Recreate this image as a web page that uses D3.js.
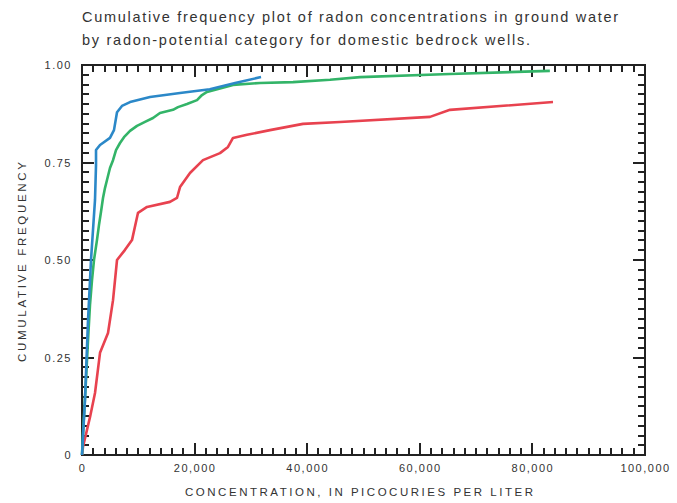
<!DOCTYPE html>
<html lang="en">
<head>
    <meta charset="UTF-8">
    <title>Cumulative frequency of radon concentrations</title>
    <script src="https://cdn.jsdelivr.net/npm/d3@7"></script>
    <style>
        body { margin: 0; background: #fff; }
        text { font-family: "Liberation Sans", Arial, sans-serif; fill: #333; }
    </style>
</head>
<body>
<script type="application/javascript">

    // concentration (pCi/L) and cumulative frequency
    let blueConc = [0, 530, 1070, 1600, 2310, 2490, 2490, 3200, 4970, 5680, 6220, 7100, 8530, 12080, 17410, 22700, 27200, 31800];
    let blueFreq = [0, 0.141, 0.346, 0.500, 0.654, 0.744, 0.782, 0.795, 0.813, 0.833, 0.879, 0.895, 0.905, 0.918, 0.928, 0.938, 0.954, 0.969];

    let greenConc = [0, 180, 710, 1070, 1420, 1780, 2130, 2660, 3020, 3370, 3730, 4090, 4440, 4970, 5510, 6040, 6750, 7460, 8530, 9770, 11190, 12610, 13850, 16160, 17050, 18650, 20430, 21310, 22200, 26820, 31620, 37480, 44050, 49380, 65360, 83100];
    let greenFreq = [0, 0.056, 0.192, 0.295, 0.385, 0.449, 0.500, 0.551, 0.590, 0.623, 0.659, 0.685, 0.705, 0.736, 0.756, 0.782, 0.800, 0.815, 0.831, 0.844, 0.854, 0.864, 0.877, 0.885, 0.892, 0.900, 0.910, 0.923, 0.931, 0.949, 0.954, 0.956, 0.962, 0.969, 0.977, 0.985];

    let redConc = [0, 180, 1420, 2310, 3200, 4620, 5510, 6220, 7640, 8880, 9950, 11550, 15630, 16870, 17410, 19180, 21490, 24510, 25930, 26820, 29310, 33390, 39250, 45830, 61810, 65360, 83660];
    let redFreq = [0, 0.021, 0.097, 0.159, 0.262, 0.313, 0.397, 0.500, 0.526, 0.551, 0.621, 0.636, 0.649, 0.659, 0.687, 0.723, 0.756, 0.774, 0.790, 0.813, 0.821, 0.833, 0.849, 0.854, 0.867, 0.885, 0.905];

    let xTicks = [0, 20000, 40000, 60000, 80000, 100000];
    let yTicks = [0, 0.25, 0.5, 0.75, 1];
    let yTickLabels = ['0', '0.25', '0.50', '0.75', '1.00'];

    let titleLines = [
        'Cumulative frequency plot of radon concentrations in ground water',
        'by radon-potential category for domestic bedrock wells.'
    ];

    let w = 677, h = 503;
    let mLeft = 82, mRight = 645, mTop = 65, mBottom = 455;

    let svg = d3.select('body')
        .append('svg')
        .attr('width', w)
        .attr('height', h);

    let x = d3.scaleLinear().domain([0, 100000]).range([mLeft, mRight]);
    let y = d3.scaleLinear().domain([0, 1]).range([mBottom, mTop]);

    // minor every 2,000 / 0.025, major at the labelled values
    let xTickMarks = d3.range(0, 51).map(i => ({ v: i * 2000, len: i % 10 === 0 ? 12 : 7 }));
    let yTickMarks = d3.range(0, 41).map(i => ({ v: i / 40, len: i % 10 === 0 ? 12 : 7 }));

    // snap to whole pixels so the 2px ticks stay crisp
    let px = v => Math.round(v);

    let ticks = svg.append('g')
        .attr('stroke', '#222')
        .attr('stroke-width', 2)
        .attr('shape-rendering', 'crispEdges');

    // bottom and top, pointing inward
    ticks.selectAll('line.xb')
        .data(xTickMarks)
        .enter()
        .append('line')
        .attr('class', 'xb')
        .attr('x1', d => px(x(d.v))).attr('x2', d => px(x(d.v)))
        .attr('y1', mBottom).attr('y2', d => mBottom - d.len);
    ticks.selectAll('line.xt')
        .data(xTickMarks)
        .enter()
        .append('line')
        .attr('class', 'xt')
        .attr('x1', d => px(x(d.v))).attr('x2', d => px(x(d.v)))
        .attr('y1', mTop).attr('y2', d => mTop + d.len);

    // left and right, pointing inward
    ticks.selectAll('line.yl')
        .data(yTickMarks)
        .enter()
        .append('line')
        .attr('class', 'yl')
        .attr('y1', d => px(y(d.v))).attr('y2', d => px(y(d.v)))
        .attr('x1', mLeft).attr('x2', d => mLeft + d.len);
    ticks.selectAll('line.yr')
        .data(yTickMarks)
        .enter()
        .append('line')
        .attr('class', 'yr')
        .attr('y1', d => px(y(d.v))).attr('y2', d => px(y(d.v)))
        .attr('x1', mRight).attr('x2', d => mRight - d.len);

    svg.append('rect')
        .attr('x', mLeft)
        .attr('y', mTop)
        .attr('width', mRight - mLeft)
        .attr('height', mBottom - mTop)
        .attr('fill', 'none')
        .attr('stroke', '#222')
        .attr('stroke-width', 2);

    // tick labels through d3 axes (their lines and domain removed)
    let xAxis = svg.append('g')
        .attr('transform', 'translate(0,' + mBottom + ')')
        .call(d3.axisBottom(x).tickValues(xTicks).tickFormat(d3.format(',')).tickSize(0).tickPadding(9));
    let yAxis = svg.append('g')
        .attr('transform', 'translate(' + mLeft + ',0)')
        .call(d3.axisLeft(y).tickValues(yTicks).tickFormat((d, i) => yTickLabels[i]).tickSize(0).tickPadding(10));
    [xAxis, yAxis].forEach(g => {
        g.select('.domain').remove();
        g.selectAll('.tick line').remove();
        g.selectAll('.tick text')
            .style('font-family', '"Liberation Sans", Arial, sans-serif')
            .style('font-size', '11px')
            .style('letter-spacing', '1.5px')
            .attr('fill', '#444');
    });

    let series = [
        { conc: redConc, freq: redFreq, color: '#e8424f' },
        { conc: greenConc, freq: greenFreq, color: '#33b468' },
        { conc: blueConc, freq: blueFreq, color: '#2b88c8' }
    ];

    let lineGen = d3.line()
        .x(d => x(d[0]))
        .y(d => y(d[1]));

    svg.selectAll('path.curve')
        .data(series)
        .enter()
        .append('path')
        .attr('class', 'curve')
        .attr('fill', 'none')
        .attr('stroke', d => d.color)
        .attr('stroke-width', 2.6)
        .attr('stroke-linejoin', 'round')
        .attr('d', d => lineGen(d.conc.map((c, i) => [c, d.freq[i]])));

    // title
    svg.append('text')
        .attr('x', 82).attr('y', 22)
        .attr('font-size', 14.5)
        .attr('textLength', 536)
        .attr('lengthAdjust', 'spacing')
        .text(titleLines[0]);
    svg.append('text')
        .attr('x', 82).attr('y', 45)
        .attr('font-size', 14.5)
        .attr('textLength', 448)
        .attr('lengthAdjust', 'spacing')
        .text(titleLines[1]);

    // axis titles
    svg.append('text')
        .attr('x', 185).attr('y', 496)
        .attr('font-size', 11.5)
        .attr('textLength', 348)
        .attr('lengthAdjust', 'spacing')
        .text('CONCENTRATION, IN PICOCURIES PER LITER');

    svg.append('text')
        .attr('transform', 'translate(26,362) rotate(-90)')
        .attr('font-size', 11.5)
        .attr('textLength', 200)
        .attr('lengthAdjust', 'spacing')
        .text('CUMULATIVE FREQUENCY');

</script>
</body>
</html>
